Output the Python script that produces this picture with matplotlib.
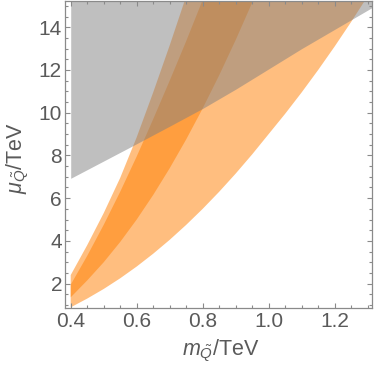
import numpy as np
import matplotlib
matplotlib.use("Agg")
import matplotlib.pyplot as plt
from matplotlib.ticker import MultipleLocator

plt.rcParams['font.family'] = ['Liberation Sans', 'DejaVu Sans']
plt.rcParams['mathtext.fontset'] = 'custom'
plt.rcParams['mathtext.rm'] = 'Liberation Sans'
plt.rcParams['mathtext.it'] = 'Liberation Sans:italic'
plt.rcParams['mathtext.bf'] = 'Liberation Sans:bold'

# ---- data (x: m_Q/TeV, y: mu_Q/TeV) ----
# wide band: lower edge L1, upper edge U1
l1_x = [0.4, 0.45, 0.5, 0.55, 0.6, 0.65, 0.7, 0.75, 0.8, 0.85, 0.9, 0.95, 1.0,
        1.05, 1.1, 1.15, 1.2, 1.25, 1.3]
l1_y = [0.89, 1.3, 1.75, 2.25, 2.8, 3.4, 4.05, 4.75, 5.5, 6.3, 7.15, 8.05, 9.0,
        9.95, 10.95, 12.0, 13.1, 14.25, 15.45]
u1_x = [0.4, 0.45, 0.5, 0.55, 0.6, 0.65, 0.7, 0.75, 0.8, 0.82]
u1_y = [1.95, 3.3, 4.75, 6.3, 7.95, 9.7, 11.5, 13.35, 15.28, 16.1]
# steep band: lower edge L2, upper edge U2
l2_x = [0.4, 0.45, 0.5, 0.55, 0.6, 0.65, 0.7, 0.75, 0.8, 0.85, 0.9, 0.95, 0.98]
l2_y = [1.36, 2.15, 3.0, 3.95, 5.0, 6.15, 7.4, 8.75, 10.2, 11.75, 13.4, 15.15, 16.2]
u2_x = [0.4, 0.45, 0.5, 0.55, 0.6, 0.65, 0.7, 0.75, 0.77]
u2_y = [2.4, 3.8, 5.3, 6.95, 8.85, 10.95, 13.15, 15.45, 16.4]
# gray excluded region: above this boundary
g_x = [0.4, 0.5, 0.6, 0.7, 0.8, 0.9, 1.0, 1.1, 1.2, 1.3, 1.32]
g_y = [6.93, 7.74, 8.55, 9.37, 10.2, 11.1, 12.05, 13.0, 13.9, 14.8, 14.98]
g_top = 16.0

x_ticks = [0.4, 0.6, 0.8, 1.0, 1.2]
y_ticks = [2, 4, 6, 8, 10, 12, 14]

fig = plt.figure(figsize=(3.74, 3.75), dpi=100)
ax = fig.add_axes([64.5 / 374, 67 / 375, 307.5 / 374, 307.5 / 375])

orange = '#FF7F00'
ax.fill(l1_x + u1_x[::-1], l1_y + u1_y[::-1], color=orange, alpha=0.5, lw=0)
ax.fill(l2_x + u2_x[::-1], l2_y + u2_y[::-1], color=orange, alpha=0.5, lw=0)
ax.fill_between(g_x, g_y, g_top, color='#808080', alpha=0.5, lw=0)

ax.set_xlim(0.3812, 1.3131)
ax.set_ylim(0.86, 15.25)
ax.set_xticks(x_ticks)
ax.set_yticks(y_ticks)
ax.set_xticklabels([f"{v:.1f}" for v in x_ticks])
ax.set_yticklabels([str(v) for v in y_ticks])
ax.xaxis.set_minor_locator(MultipleLocator(0.05))
ax.yaxis.set_minor_locator(MultipleLocator(0.5))

spine_c = '#8a8a8a'
for s in ax.spines.values():
    s.set_color(spine_c)
    s.set_linewidth(0.9)
ax.tick_params(which='both', direction='in', top=True, right=True, color=spine_c, width=0.8)
ax.tick_params(which='major', length=3.8)
ax.tick_params(which='minor', length=2.2)
ax.tick_params(axis='x', which='major', pad=3.0, labelsize=15, labelcolor='#5a5a5a')
ax.tick_params(axis='y', which='major', pad=1.8, labelsize=15, labelcolor='#5a5a5a')

fig.text(221 / 374, (375 - 355) / 375, r'$m_{\tilde{Q}}/\mathrm{TeV}$', fontsize=15.5,
         color='#5a5a5a', ha='center', va='baseline')
fig.text(22 / 374, (375 - 158) / 375, r'$\mu_{\tilde{Q}}/\mathrm{TeV}$', fontsize=15.5,
         color='#5a5a5a', ha='center', va='baseline', rotation=90, rotation_mode='anchor')

fig.savefig('out.png', dpi=100)
